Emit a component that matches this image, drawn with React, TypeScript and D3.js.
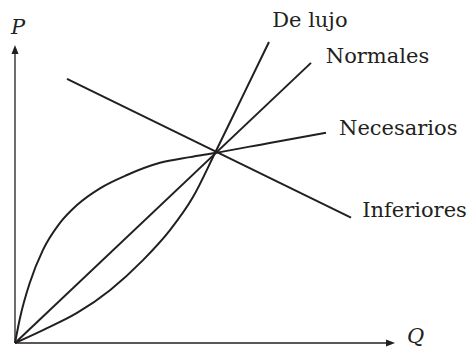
import React from "react";
import * as d3 from "d3";

const W = 470;
const H = 353;

// Data in (Q, P) units
const normales: [number, number][] = [[0, 0], [7.4, 7.37]];
const deLujo: [number, number][] = [
  [0, 0], [0.7, 0.34], [1.55, 0.79], [2.375, 1.39], [3.2, 2.18],
  [3.875, 2.97], [4.45, 3.84], [5, 5], [5.68, 6.47], [6.35, 7.92],
];
const necesarios: [number, number][] = [
  [0, 0], [0.125, 0.66], [0.375, 1.6], [0.7, 2.45], [1.125, 3.16],
  [1.55, 3.63], [2.125, 4.07], [2.8, 4.42], [3.625, 4.74], [4.375, 4.89],
  [5, 5], [6.4, 5.27], [7.775, 5.53],
];
const inferiores: [number, number][] = [[1.3, 6.95], [8.4, 3.3]];

const labels = ["De lujo", "Normales", "Necesarios", "Inferiores"];
const labelPos: [number, number][] = [[6.43, 8.31], [7.77, 7.37], [8.1, 5.47], [8.68, 3.32]];

const x = d3.scaleLinear().domain([0, 9.5]).range([15, 395]);
const y = d3.scaleLinear().domain([0, 7.84]).range([343, 45]);

const curved = d3
  .line<[number, number]>()
  .x((d) => x(d[0]))
  .y((d) => y(d[1]))
  .curve(d3.curveMonotoneX);
const straight = d3
  .line<[number, number]>()
  .x((d) => x(d[0]))
  .y((d) => y(d[1]));

const ink = "#231f20";
const serif = "DejaVu Serif";

export default function App() {
  const x0 = x(0);
  const y0 = y(0);
  const xEnd = x(9.5);
  const yEnd = y(7.84);
  return (
    <svg
      width={W}
      height={H}
      style={{ position: "absolute", left: 0, top: 0, background: "#fff" }}
    >
      {/* axes */}
      <line x1={x0} y1={y0} x2={xEnd - 6} y2={y0} stroke={ink} strokeWidth={1.3} />
      <line x1={x0} y1={y0} x2={x0} y2={yEnd + 6} stroke={ink} strokeWidth={1.3} />
      <path d={`M${xEnd},${y0} L${xEnd - 9},${y0 - 3.5} L${xEnd - 9},${y0 + 3.5} Z`} fill={ink} />
      <path d={`M${x0},${yEnd} L${x0 - 3.5},${yEnd + 9} L${x0 + 3.5},${yEnd + 9} Z`} fill={ink} />

      <path d={straight(normales) ?? ""} fill="none" stroke={ink} strokeWidth={2} />
      <path d={curved(deLujo) ?? ""} fill="none" stroke={ink} strokeWidth={2} />
      <path d={curved(necesarios) ?? ""} fill="none" stroke={ink} strokeWidth={2} />
      <path d={straight(inferiores) ?? ""} fill="none" stroke={ink} strokeWidth={2} />

      <g fontFamily={serif} fontSize={21} fill={ink}>
        {labels.map((t, i) => (
          <text key={t} x={x(labelPos[i][0])} y={y(labelPos[i][1])}>
            {t}
          </text>
        ))}
        <text x={11} y={34} fontStyle="italic">P</text>
        <text x={407} y={343} fontStyle="italic">Q</text>
      </g>
    </svg>
  );
}
